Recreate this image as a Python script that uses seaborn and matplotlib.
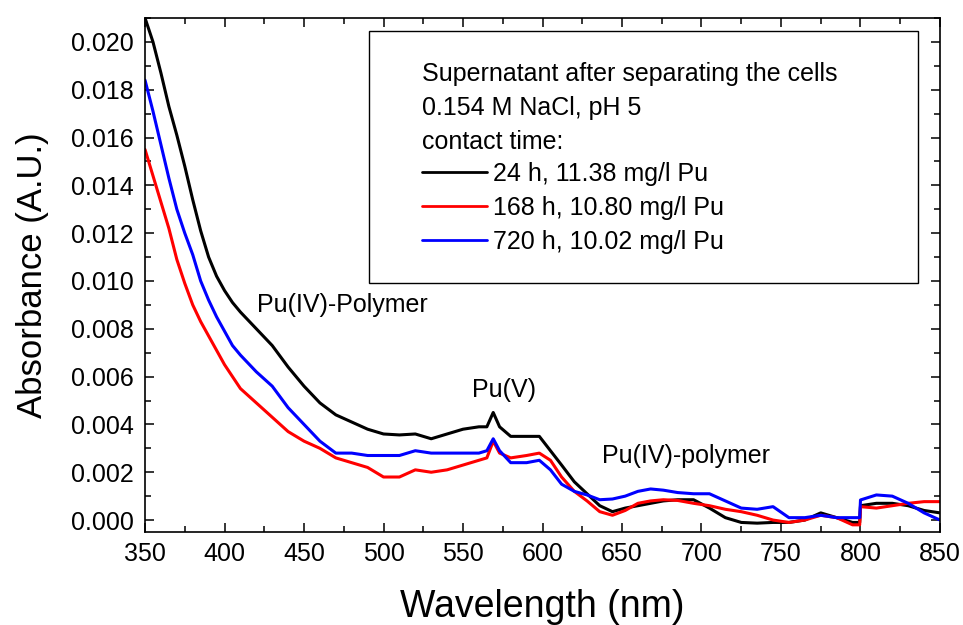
import numpy as np
import pandas as pd
import matplotlib
matplotlib.use("Agg")
import matplotlib.pyplot as plt
from matplotlib.ticker import MultipleLocator, FormatStrFormatter
from matplotlib.patches import Rectangle
import seaborn as sns

wavelength = [350, 355, 360, 365, 370, 375, 380, 385, 390, 395, 400, 405, 410, 420, 430, 440,
              450, 460, 470, 480, 490, 500, 510, 520, 530, 540, 550, 560, 565, 569, 573,
              580, 590, 598, 605, 612, 620, 628, 636, 644, 652, 660, 668, 676, 685, 695,
              705, 715, 725, 735, 745, 755, 765, 775, 785, 795, 799.5, 800, 810, 820, 830,
              840, 850]

abs_24h = [0.0210, 0.0200, 0.0187, 0.0173, 0.0161, 0.0148, 0.0134, 0.0121, 0.0110, 0.0102,
           0.0096, 0.0091, 0.0087, 0.0080, 0.0073, 0.0064, 0.0056, 0.0049, 0.0044, 0.0041, 0.0038,
           0.0036, 0.00356, 0.0036, 0.0034, 0.0036, 0.0038, 0.0039, 0.0039, 0.0045, 0.0039,
           0.0035, 0.0035, 0.0035, 0.0029, 0.0023, 0.0016, 0.0011, 0.0006, 0.00035, 0.0005,
           0.0006, 0.0007, 0.0008, 0.00085, 0.00085, 0.0005, 0.0001, -0.0001, -0.00013, -0.0001,
           -0.0001, 0.0000, 0.0003, 0.0001, -0.0001, -0.0001, 0.0006, 0.0007, 0.0007, 0.0006,
           0.0004, 0.0003]

abs_168h = [0.0155, 0.0144, 0.0133, 0.0122, 0.0109, 0.0099, 0.0090, 0.0083, 0.0077, 0.0071,
            0.0065, 0.0060, 0.0055, 0.0049, 0.0043, 0.0037, 0.0033, 0.0030, 0.0026, 0.0024, 0.0022,
            0.0018, 0.0018, 0.0021, 0.0020, 0.0021, 0.0023, 0.0025, 0.0026, 0.0033, 0.0028,
            0.0026, 0.0027, 0.0028, 0.0025, 0.0018, 0.0012, 0.0008, 0.00035, 0.0002, 0.0004,
            0.0007, 0.0008, 0.00085, 0.00082, 0.0007, 0.0006, 0.00045, 0.00035, 0.0002, 0.0000,
            -0.0001, 0.0000, 0.0002, 0.0001, -0.0002, -0.0002, 0.00056, 0.0005, 0.0006, 0.0007,
            0.00077, 0.00077]

abs_720h = [0.0184, 0.0171, 0.0157, 0.0143, 0.0130, 0.0120, 0.0111, 0.0100, 0.0092, 0.0085,
            0.0079, 0.0073, 0.0069, 0.0062, 0.0056, 0.0047, 0.0040, 0.0033, 0.0028, 0.0028, 0.0027,
            0.0027, 0.0027, 0.0029, 0.0028, 0.0028, 0.0028, 0.0028, 0.0029, 0.0034, 0.0029,
            0.0024, 0.0024, 0.0025, 0.0021, 0.0015, 0.0012, 0.00105, 0.00085, 0.00088, 0.0010,
            0.0012, 0.0013, 0.00125, 0.00115, 0.0011, 0.0011, 0.0008, 0.0005, 0.00045, 0.00056,
            0.0001, 0.0001, 0.0002, 0.0001, 0.0001, 0.0001, 0.00084, 0.00105, 0.0010, 0.0007,
            0.0003, 0.0000]

series_labels = ["24 h, 11.38 mg/l Pu", "168 h, 10.80 mg/l Pu", "720 h, 10.02 mg/l Pu"]
series_colors = ["#000000", "#ff0000", "#0000ff"]
legend_header = "Supernatant after separating the cells\n0.154 M NaCl, pH 5\ncontact time:"
x_ticks = [350, 400, 450, 500, 550, 600, 650, 700, 750, 800, 850]

df = pd.concat([
    pd.DataFrame({"Wavelength": wavelength, "Absorbance": vals, "Series": lab})
    for vals, lab in zip([abs_24h, abs_168h, abs_720h], series_labels)
], ignore_index=True)

sns.set_theme(style="ticks")
plt.rcParams["font.family"] = ["Liberation Sans", "DejaVu Sans"]
for key in ["text.color", "axes.labelcolor", "xtick.color", "ytick.color", "axes.edgecolor"]:
    plt.rcParams[key] = "black"

fig = plt.figure(figsize=(9.63, 6.25), dpi=100)
ax = fig.add_axes([0.1506, 0.1488, 0.8255, 0.8224])

sns.lineplot(data=df, x="Wavelength", y="Absorbance", hue="Series",
             palette=dict(zip(series_labels, series_colors)), hue_order=series_labels,
             estimator=None, sort=False, linewidth=2.2, legend=False, ax=ax)

ax.set_xlim(350, 850)
ax.set_ylim(-0.0005, 0.021)
ax.set_xticks(x_ticks)
ax.xaxis.set_minor_locator(MultipleLocator(25))
ax.yaxis.set_major_locator(MultipleLocator(0.002))
ax.yaxis.set_minor_locator(MultipleLocator(0.001))
ax.yaxis.set_major_formatter(FormatStrFormatter("%.3f"))
ax.tick_params(which="both", direction="in", top=True, right=True, labelsize=18,
               color="black", labelcolor="black", width=1.1)
ax.tick_params(axis="x", which="major", length=6.5, pad=7)
ax.tick_params(axis="y", which="major", length=6.5, pad=8)
ax.tick_params(which="minor", length=4)
for s in ax.spines.values():
    s.set_linewidth(1.2)
    s.set_color("black")

ax.set_xlabel("Wavelength (nm)", fontsize=27, labelpad=17)
ax.set_ylabel("Absorbance (A.U.)", fontsize=25, labelpad=16)

ax.text(420.5, 0.0087, "Pu(IV)-Polymer", fontsize=18, ha="left", va="baseline")
ax.text(575.8, 0.00515, "Pu(V)", fontsize=18, ha="center", va="baseline")
ax.text(637.4, 0.00237, "Pu(IV)-polymer", fontsize=18, ha="left", va="baseline")

# legend box
ax.add_patch(Rectangle((0.2818, 0.4844), 0.6905, 0.4903, transform=ax.transAxes,
                       fill=False, edgecolor="black", linewidth=1.0, zorder=5))
handles = ax.get_lines()[:3]
leg = ax.legend(handles, series_labels, title=legend_header, loc="upper left",
                bbox_to_anchor=((422 - 145) / 795, (532 - 62) / 514),
                frameon=False, fontsize=18, title_fontsize=18, borderpad=0,
                borderaxespad=0, handlelength=2.6, handletextpad=0.25,
                labelspacing=0.39)
leg._legend_box.align = "left"
leg.get_title().set_linespacing(1.52)
leg._legend_box.sep = 6
for ln in leg.get_lines():
    ln.set_linewidth(2.0)
for t in leg.get_texts():
    t.set_color("black")

fig.savefig("out.png", dpi=100)
